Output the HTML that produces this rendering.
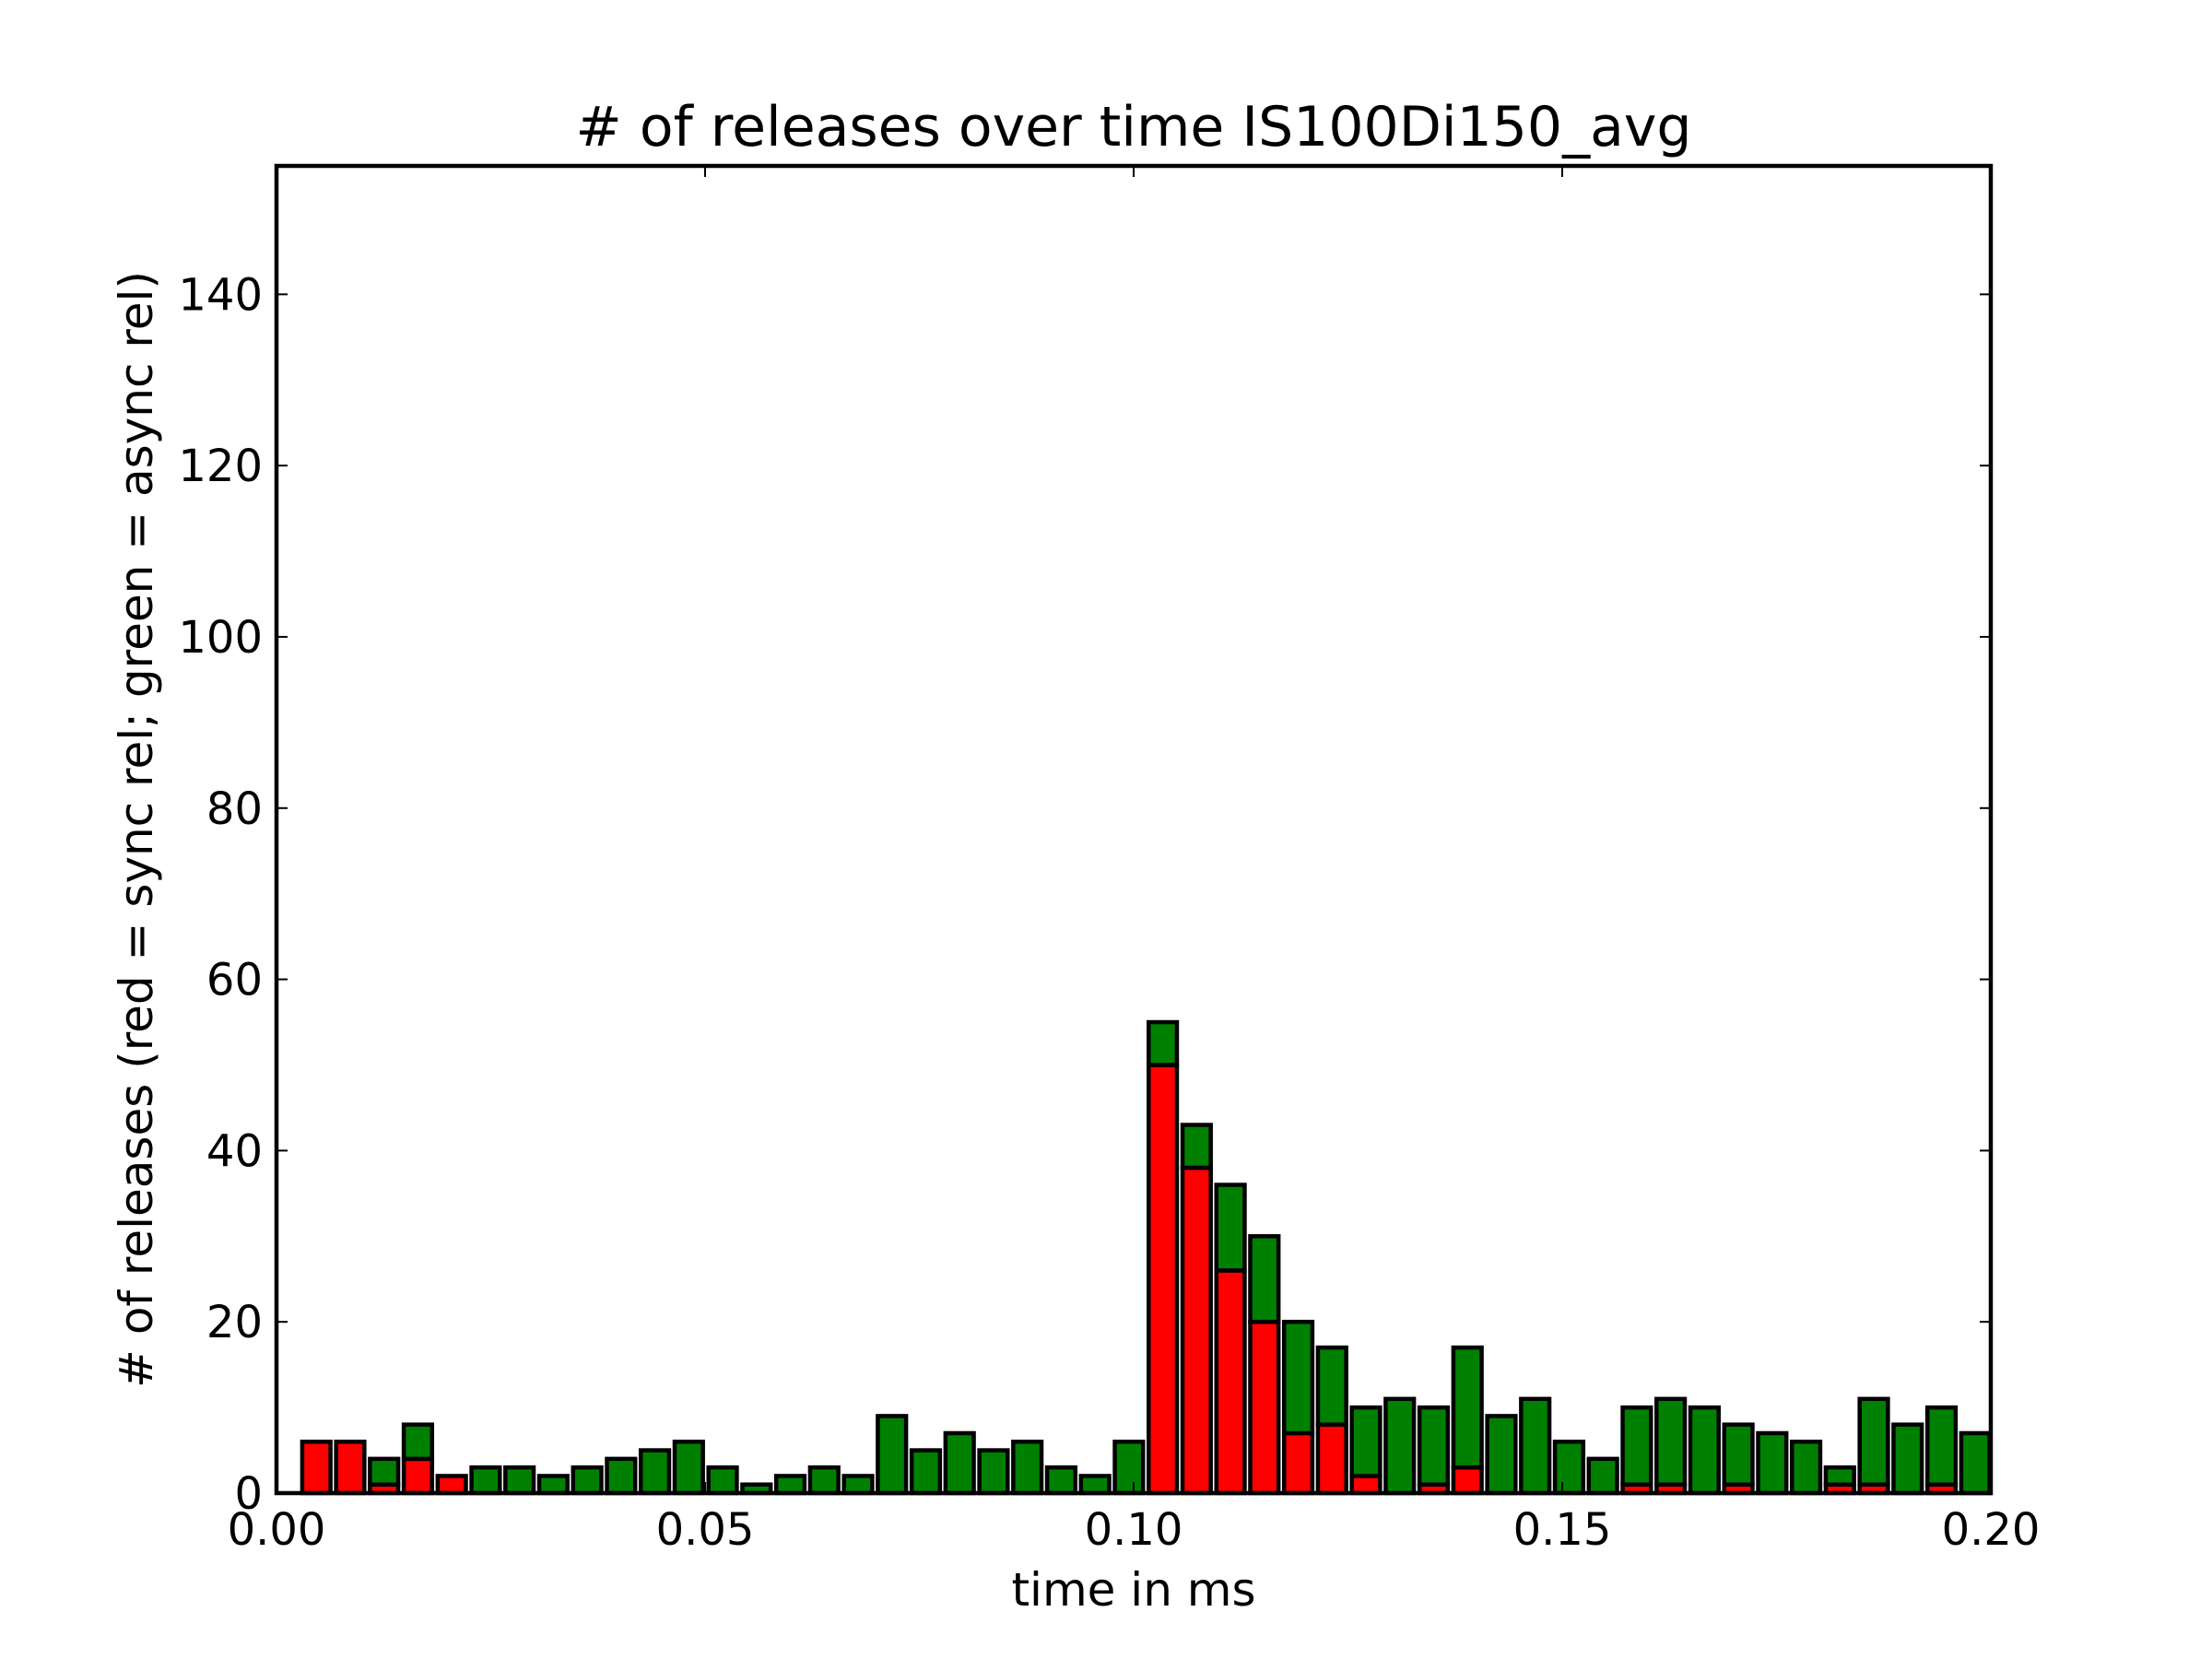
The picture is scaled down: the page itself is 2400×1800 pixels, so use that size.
<!DOCTYPE html>
<html><head><meta charset="utf-8"><style>
html,body{margin:0;padding:0;background:#fff;}
svg{display:block;font-family:"DejaVu Sans","Liberation Sans",sans-serif;}
</style></head><body>
<svg id="chart" width="2400" height="1800" viewBox="0 0 2400 1800" xmlns="http://www.w3.org/2000/svg">
<rect x="0" y="0" width="2400" height="1800" fill="#fff"/>
<text x="1230" y="158" font-size="60" text-anchor="middle"># of releases over time IS100Di150_avg</text>
<text x="1230" y="1742" font-size="50" text-anchor="middle">time in ms</text>
<text transform="translate(165,900) rotate(-90)" font-size="50" text-anchor="middle"># of releases (red = sync rel; green = async rel)</text>
<g id="bars"></g>
<g id="axes"></g>
</svg>
<script>
const totals = [6,6,4,8,2,3,3,2,3,4,5,6,3,1,2,3,2,9,5,7,5,6,3,2,6,55,43,36,30,20,17,10,11,10,17,9,11,6,4,10,11,10,8,7,6,3,11,8,10,7];
const syncRel = [6,6,1,4,2,0,0,0,0,0,0,0,0,0,0,0,0,0,0,0,0,0,0,0,0,50,38,26,20,7,8,2,0,1,3,0,0,0,0,1,1,0,1,0,0,1,1,0,1,0];
const xTicks = [0, 0.05, 0.10, 0.15, 0.20];
const xTickLabels = ["0.00","0.05","0.10","0.15","0.20"];
const yTicks = [0,20,40,60,80,100,120,140];
const binStart = 0.003, binStep = 0.00395, barWidth = 0.0033;

const L=300,R=2160,T=180,B=1620, XMAX=0.2, YMAX=155;
const sx = v => L + v/XMAX*(R-L);
const sy = v => B - v/YMAX*(B-T);
const NS="http://www.w3.org/2000/svg";
const bars=document.getElementById('bars');
const axes=document.getElementById('axes');
function mk(tag,attrs,parent){const e=document.createElementNS(NS,tag);for(const k in attrs)e.setAttribute(k,attrs[k]);parent.appendChild(e);return e;}

totals.forEach((t,i)=>{
  const x0=sx(binStart+i*binStep), w=sx(barWidth)-sx(0);
  const r=syncRel[i];
  if(r>0){
    const e=mk('rect',{x:x0,y:sy(r),width:w,height:sy(0)-sy(r),fill:'#ff0000',stroke:'#000','stroke-width':4.5},bars);
    
    
  }
  if(t-r>0){
    const e=mk('rect',{x:x0,y:sy(t),width:w,height:sy(r)-sy(t),fill:'#008000',stroke:'#000','stroke-width':4.5},bars);
    
    
  }
});

const frame=mk('rect',{x:L,y:T,width:R-L,height:B-T,fill:'none',stroke:'#000','stroke-width':4.5},axes);



xTicks.forEach((v,i)=>{
  const x=sx(v);
  const t1=mk('line',{x1:x,y1:B,x2:x,y2:B-12,stroke:'#000','stroke-width':2},axes);
  
  
  const t2=mk('line',{x1:x,y1:T,x2:x,y2:T+12,stroke:'#000','stroke-width':2},axes);
  
  
  const lb=mk('text',{x:x,y:1676,'font-size':48,'text-anchor':'middle'},axes);
  lb.textContent=xTickLabels[i];
  
  
});
yTicks.forEach(v=>{
  const y=sy(v);
  const t1=mk('line',{x1:L,y1:y,x2:L+12,y2:y,stroke:'#000','stroke-width':2},axes);
  
  
  const t2=mk('line',{x1:R,y1:y,x2:R-12,y2:y,stroke:'#000','stroke-width':2},axes);
  
  
  const lb=mk('text',{x:285,y:y+17,'font-size':48,'text-anchor':'end'},axes);
  lb.textContent=String(v);
  
  
});
</script>
</body></html>
